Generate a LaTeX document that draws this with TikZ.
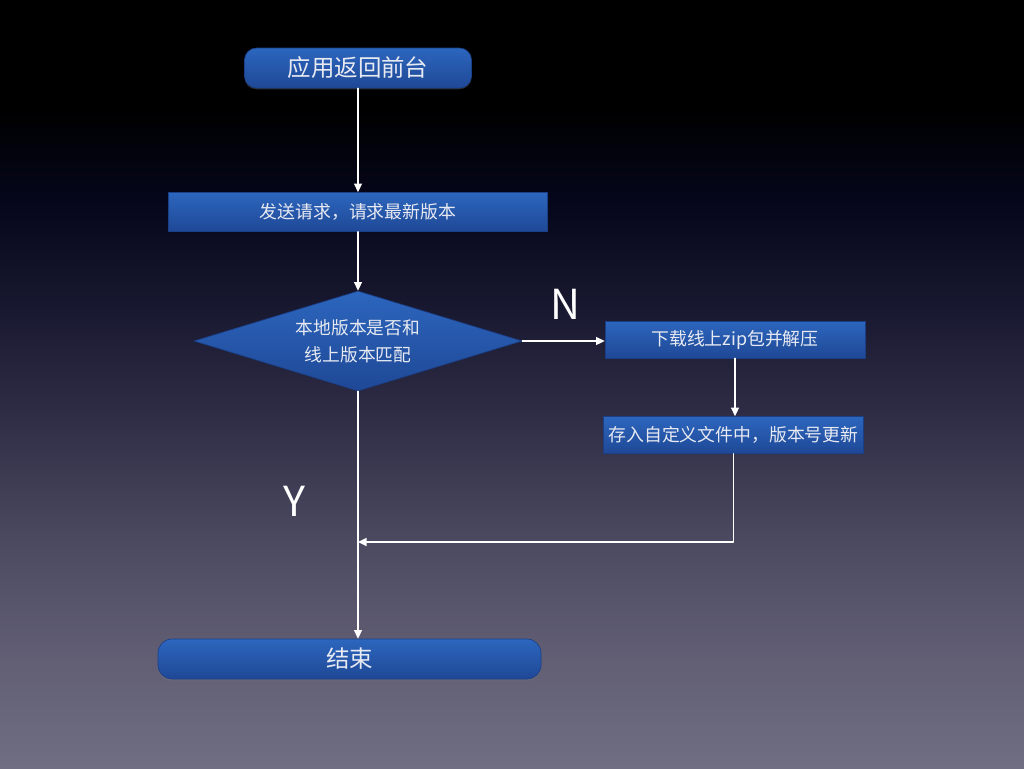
\documentclass[tikz,border=0pt]{standalone}
\usepackage{fontspec}
\setmainfont{Noto Sans CJK SC}
\usetikzlibrary{arrows.meta,shapes.geometric,shadows}
\definecolor{bgaa}{HTML}{000000}
\definecolor{bgbb}{HTML}{05061A}
\definecolor{bgcc}{HTML}{181830}
\definecolor{bgdd}{HTML}{2E2D45}
\definecolor{bgee}{HTML}{4B4960}
\definecolor{bgff}{HTML}{625F75}
\definecolor{bggg}{HTML}{706E82}
\definecolor{bxtop}{HTML}{2C66BE}
\definecolor{bxbot}{HTML}{1F4896}
\definecolor{bxline}{HTML}{1B3F86}
\definecolor{txwh}{HTML}{E8EAF2}
\pgfdeclareverticalshading{bgshade}{100bp}{color(0bp)=(bggg); color(25bp)=(bggg);
  color(32bp)=(bgff); color(40bp)=(bgee); color(48bp)=(bgdd); color(55bp)=(bgcc);
  color(62bp)=(bgbb); color(68bp)=(bgaa); color(100bp)=(bgaa)}

\begin{document}
\begin{tikzpicture}[line cap=round,line join=round,x=0.75pt,y=-0.75pt,
  box/.style={draw=bxline,line width=0.5pt,top color=bxtop,bottom color=bxbot,
    text=txwh,inner sep=0pt,font=\fontsize{13.4}{17}\selectfont},
  termbox/.style={box,rounded corners=9pt,font=\fontsize{17.6}{21}\selectfont,
    drop shadow={opacity=0.35,shadow xshift=0pt,shadow yshift=-1pt}},
  decide/.style={box,diamond,aspect=3.28,align=center,font=\fontsize{13.3}{20}\selectfont},
  arr/.style={draw=white,line width=1.1pt,-{Triangle[length=6.5pt,width=6pt]}},
  yn/.style={text=white,font=\fontsize{31}{31}\selectfont}]
\useasboundingbox (0,0) rectangle (1024,768);
\shade[shading=bgshade] (0,0) rectangle (1024,768);
% nodes
\node[termbox,minimum width=170.25pt,minimum height=30pt] (start) at (358,68) {应用返回前台};
\node[box,minimum width=284.25pt,minimum height=29.25pt] (req) at (358,212) {发送请求，请求最新版本};
\node[decide,minimum width=246pt,minimum height=75pt] (check) at (358,341) {本地版本是否和\\线上版本匹配};
\node[box,minimum width=195pt,minimum height=27.75pt] (dl) at (735,339.5) {下载线上zip包并解压};
\node[box,minimum width=195pt,minimum height=27.75pt] (save) at (733.5,435) {存入自定义文件中，版本号更新};
\node[termbox,minimum width=287.25pt,minimum height=30pt,rounded corners=10.5pt] (finish) at (349.5,659) {结束};
\coordinate (join) at (358,542);
% connectors
\draw[arr] (start.south) -- (start.south |- req.north);
\draw[arr] (req.south) -- (check.north);
\draw[arr] (check.east) -- (check.east -| dl.west);
\draw[arr] (dl.south) -- (dl.south |- save.north);
\draw[arr] (save.south) |- (join);
\draw[arr] (check.south) -- (check.south |- finish.north);
% labels
\node[yn] (lbn) at (565,304) {N};
\node[yn] (lby) at (294,501) {Y};
\end{tikzpicture}
\end{document}
